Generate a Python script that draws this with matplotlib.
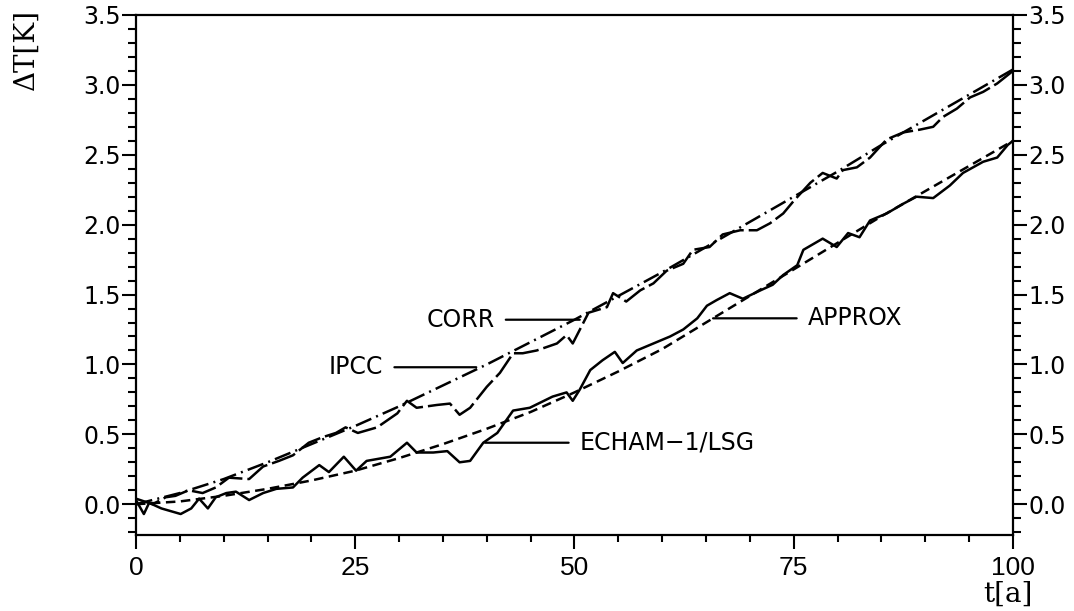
import matplotlib
matplotlib.use('Agg')
import matplotlib.pyplot as plt
from matplotlib.ticker import MultipleLocator, FixedLocator

# ---------------- data ----------------
years_smooth = [0, 5, 10, 15, 20, 25, 30, 35, 40, 45, 50,
                55, 60, 65, 70, 75, 80, 85, 90, 95, 100]
ipcc = [0.00, 0.08, 0.18, 0.30, 0.43, 0.56, 0.70, 0.85, 1.00, 1.16, 1.32,
        1.49, 1.66, 1.84, 2.02, 2.20, 2.38, 2.57, 2.75, 2.93, 3.11]
approx = [0.00, 0.02, 0.06, 0.11, 0.17, 0.24, 0.33, 0.43, 0.54, 0.66, 0.80,
          0.95, 1.11, 1.30, 1.49, 1.68, 1.87, 2.06, 2.24, 2.42, 2.60]

t_echam = [0, 0.9, 1.5, 2.9, 5.1, 6.3, 7.2, 8.2, 9.1, 10.3, 11.4, 12.9, 14.5,
           16.0, 17.9, 19.0, 20.9, 22.0, 23.7, 25.1, 26.3, 29.0, 30.9, 32.0,
           33.9, 35.5, 36.9, 38.1, 39.6, 41.2, 43.0, 44.9, 47.5, 49.1, 49.8,
           50.6, 51.8, 53.2, 54.6, 55.5, 57.1, 59.0, 60.9, 62.4, 64.0, 65.1,
           66.2, 67.7, 69.2, 71.2, 72.6, 73.8, 75.4, 76.1, 78.3, 79.9, 81.2,
           82.5, 83.7, 85.6, 87.5, 89.0, 90.9, 92.8, 94.3, 96.6, 98.2, 99.4,
           100]
echam = [0.03, -0.07, 0.01, -0.03, -0.07, -0.03, 0.04, -0.03, 0.05, 0.08,
         0.09, 0.03, 0.08, 0.11, 0.12, 0.19, 0.28, 0.23, 0.34, 0.24, 0.31,
         0.34, 0.44, 0.37, 0.37, 0.38, 0.30, 0.31, 0.44, 0.51, 0.67, 0.69,
         0.77, 0.80, 0.74, 0.82, 0.96, 1.03, 1.09, 1.01, 1.10, 1.15, 1.20,
         1.25, 1.33, 1.42, 1.46, 1.51, 1.47, 1.53, 1.57, 1.64, 1.71, 1.82,
         1.90, 1.84, 1.94, 1.91, 2.03, 2.08, 2.15, 2.20, 2.19, 2.28, 2.37,
         2.45, 2.48, 2.57, 2.60]

t_corr = [0, 1.9, 3.4, 4.5, 6.0, 7.6, 9.1, 10.6, 12.9, 14.5, 16.3, 17.9,
          19.7, 21.3, 22.8, 23.9, 25.3, 27.5, 29.8, 30.9, 32.0, 34.3, 35.8,
          36.9, 38.1, 40.0, 41.5, 43.0, 44.1, 45.7, 48.0, 49.1, 49.8, 51.6,
          53.7, 54.4, 55.9, 57.5, 59.0, 60.5, 62.4, 63.5, 65.4, 66.9, 68.9,
          70.8, 72.3, 73.8, 75.0, 76.9, 78.3, 79.9, 80.6, 82.2, 83.7, 85.6,
          87.5, 89.4, 90.9, 92.0, 93.6, 95.1, 96.6, 98.2, 100]
corr = [0.04, 0.00, 0.05, 0.06, 0.10, 0.08, 0.12, 0.19, 0.18, 0.27, 0.31,
        0.35, 0.44, 0.48, 0.51, 0.55, 0.51, 0.55, 0.65, 0.74, 0.69, 0.71,
        0.72, 0.64, 0.69, 0.84, 0.94, 1.08, 1.08, 1.10, 1.15, 1.21, 1.15,
        1.37, 1.41, 1.51, 1.45, 1.53, 1.58, 1.67, 1.72, 1.82, 1.84, 1.93,
        1.96, 1.96, 2.01, 2.08, 2.17, 2.30, 2.37, 2.33, 2.39, 2.41, 2.48,
        2.61, 2.66, 2.68, 2.70, 2.77, 2.83, 2.91, 2.95, 3.01, 3.10]

x_major = [0, 25, 50, 75, 100]
y_major = [0.0, 0.5, 1.0, 1.5, 2.0, 2.5, 3.0, 3.5]

# ---------------- figure ----------------
fig = plt.figure(figsize=(10.74, 6.11), dpi=100)
ax = fig.add_axes([0.1266, 0.1244, 0.8166, 0.8511])

lw = 1.8
ax.plot(years_smooth, ipcc, color='black', lw=lw, linestyle=(0, (6.7, 2.1, 0.8, 2.1)))
ax.plot(t_corr, corr, color='black', lw=lw, linestyle=(0, (10, 2)))
ax.plot(years_smooth, approx, color='black', lw=lw, linestyle=(0, (3.8, 2.2)))
ax.plot(t_echam, echam, color='black', lw=lw, linestyle='-')

ax.set_xlim(0, 100)
ax.set_ylim(-0.22, 3.5)

ax.xaxis.set_major_locator(FixedLocator(x_major))
ax.xaxis.set_minor_locator(MultipleLocator(5))
ax.yaxis.set_major_locator(FixedLocator(y_major))
ax.yaxis.set_minor_locator(MultipleLocator(0.1))
ax.set_xticklabels([str(v) for v in x_major])
ax.set_yticklabels([f"{v:.1f}" for v in y_major])

for s in ax.spines.values():
    s.set_linewidth(1.6)

ax.tick_params(axis='y', which='both', direction='out', left=True, right=True,
               labelleft=True, labelright=True, width=1.5)
ax.tick_params(axis='y', which='major', length=10, pad=1, labelsize=17)
ax.tick_params(axis='y', which='minor', length=6)
ax.tick_params(axis='x', which='both', direction='out', bottom=True, top=False, width=1.5)
ax.tick_params(axis='x', which='major', length=10, pad=5, labelsize=19)
ax.tick_params(axis='x', which='minor', length=5)
for lab in ax.get_xticklabels():
    lab.set_family('Liberation Sans')

# annotations with horizontal leader lines
ann = dict(fontsize=17, va='center', color='black')
leader = dict(arrowstyle='-', lw=1.6, color='black', shrinkA=6, shrinkB=0)
ax.annotate('IPCC', xy=(38.8, 0.98), xytext=(28.2, 0.98), ha='right',
            arrowprops=leader, **ann)
ax.annotate('CORR', xy=(50.6, 1.32), xytext=(40.9, 1.32), ha='right',
            arrowprops=leader, **ann)
ax.annotate('APPROX', xy=(65.8, 1.33), xytext=(76.6, 1.33), ha='left',
            arrowprops=leader, **ann)
ax.annotate('ECHAM\u22121/LSG', xy=(39.8, 0.44), xytext=(50.6, 0.44), ha='left',
            arrowprops=leader, **ann)

fig.text(0.024, 0.985, '\u0394T[K]', rotation=90, ha='center', va='top',
         fontsize=20, family='DejaVu Serif')
fig.text(0.9385, 0.027, 't[a]', ha='center', va='center',
         fontsize=20, family='DejaVu Serif')

fig.savefig('out.png', dpi=100)
